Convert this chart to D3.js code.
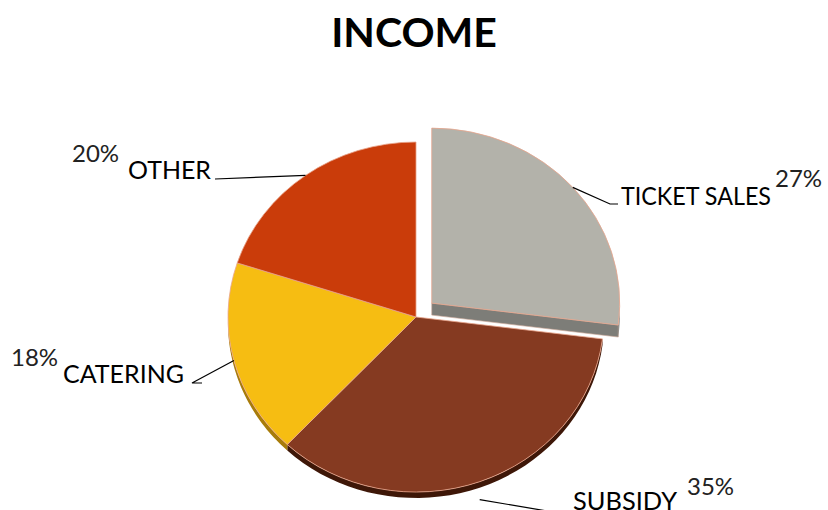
<!DOCTYPE html>
<html>
<head>
<meta charset="utf-8">
<script src="https://cdn.jsdelivr.net/npm/d3@7"></script>
<style>
  body { margin: 0; background: #fff; }
  svg { display: block; }
  text { font-family: Lato, "Open Sans", sans-serif; fill: #000; }
</style>
</head>
<body>
<svg id="chart" width="828" height="510"></svg>
<script>
// data
var categories = ["TICKET SALES", "SUBSIDY", "CATERING", "OTHER"];
var shares = [27, 35, 18, 20];
var topColors = ["#b3b2aa", "#853a21", "#f6bd12", "#ca3c0a"];
var sideColors = ["#7d7d78", "#3e1708", "#a87c0a", "#7a2306"];
var exploded = ["TICKET SALES"];

var dims = { width: 828, height: 510, cx: 416, cy: 317, rx: 188, ry: 175, depth: 6, cutDepth: 12, explode: 21 };

// where each label sits (layout only)
var labelLayout = {
  "TICKET SALES": { tx: 621, ty: 205, w: 150, px: 775, py: 187, line: [[610, 204], [618, 204]] },
  "SUBSIDY":      { tx: 573, ty: 510, w: 104, px: 687, py: 495, line: [[547, 511]] },
  "CATERING":     { tx: 63,  ty: 383, w: 121, px: 11,  py: 366, line: [[192, 383], [202, 383]] },
  "OTHER":        { tx: 128, ty: 179, w: 83,  px: 72,  py: 162, line: [[215, 179]] }
};

var svg = d3.select("#chart");

svg.append("text")
  .attr("x", dims.width / 2)
  .attr("y", 47)
  .attr("text-anchor", "middle")
  .style("font-size", "41px")
  .style("font-weight", "bold")
  .text("INCOME");

var rows = categories.map((c, i) => ({ name: c, value: shares[i], top: topColors[i], side: sideColors[i] }));

var pie = d3.pie().sort(null).value(d => d.value);
var arcs = pie(rows);

// offset of each slice (exploded ones pushed out along mid angle)
arcs.forEach(a => {
  var mid = (a.startAngle + a.endAngle) / 2;
  var d = exploded.includes(a.data.name) ? dims.explode : 0;
  a.ox = dims.cx + d * Math.sin(mid);
  a.oy = dims.cy - d * Math.cos(mid);
});

function pt(a, ang, dy) {
  return [a.ox + dims.rx * Math.sin(ang), a.oy - dims.ry * Math.cos(ang) + (dy || 0)];
}

var line = d3.line();

// outer walls (visible front half)
function wall(a, depth) {
  var s = Math.max(a.startAngle, Math.PI / 2), e = Math.min(a.endAngle, 3 * Math.PI / 2);
  if (e <= s) return null;
  var steps = 40, topPts = [], botPts = [];
  for (var k = 0; k <= steps; k++) {
    var ang = s + (e - s) * k / steps;
    topPts.push(pt(a, ang));
    botPts.push(pt(a, ang, depth));
  }
  return line(topPts.concat(botPts.reverse())) + "Z";
}

var walls = svg.append("g");
arcs.filter(a => !exploded.includes(a.data.name)).forEach(a => {
  var p = wall(a, dims.depth);
  if (p) walls.append("path").attr("d", p).attr("fill", a.data.side);
});

var arc = d3.arc().innerRadius(0).outerRadius(1);

function drawTop(a) {
  svg.append("path")
    .attr("d", arc(a))
    .attr("transform", `translate(${a.ox},${a.oy}) scale(${dims.rx},${dims.ry})`)
    .attr("fill", a.data.top)
    .attr("stroke", "#e9a58c")
    .attr("stroke-width", 0.8)
    .attr("vector-effect", "non-scaling-stroke");
}

arcs.filter(a => !exploded.includes(a.data.name)).forEach(drawTop);

// exploded slice: cut face + wall, then top
arcs.filter(a => exploded.includes(a.data.name)).forEach(a => {
  var apex = [a.ox, a.oy];
  var outer = pt(a, a.endAngle);
  svg.append("path")
    .attr("d", line([apex, outer, [outer[0], outer[1] + dims.cutDepth], [apex[0], apex[1] + dims.cutDepth]]) + "Z")
    .attr("fill", a.data.side)
    .attr("stroke", "#c9a493")
    .attr("stroke-width", 0.6);
  var p = wall(a, dims.cutDepth);
  if (p) svg.append("path").attr("d", p).attr("fill", a.data.side);
  drawTop(a);
});

// labels with leader lines
var labels = svg.append("g");
arcs.forEach(a => {
  var L = labelLayout[a.data.name];
  var mid = (a.startAngle + a.endAngle) / 2;
  var onWall = Math.cos(mid) < -0.8 ? dims.depth + 12 : 0;
  var start = pt(a, mid, onWall);
  var pts = [start].concat(L.line);
  labels.append("path")
    .attr("d", line(pts))
    .attr("fill", "none")
    .attr("stroke", "#000")
    .attr("stroke-width", 1.2);
  labels.append("text")
    .attr("x", L.tx).attr("y", L.ty)
    .attr("textLength", L.w)
    .attr("lengthAdjust", "spacingAndGlyphs")
    .style("font-size", "25px")
    .text(a.data.name);
  labels.append("text")
    .attr("x", L.px).attr("y", L.py)
    .style("font-size", "24px")
    .style("fill", "#222")
    .text(a.data.value + "%");
});
</script>
</body>
</html>
